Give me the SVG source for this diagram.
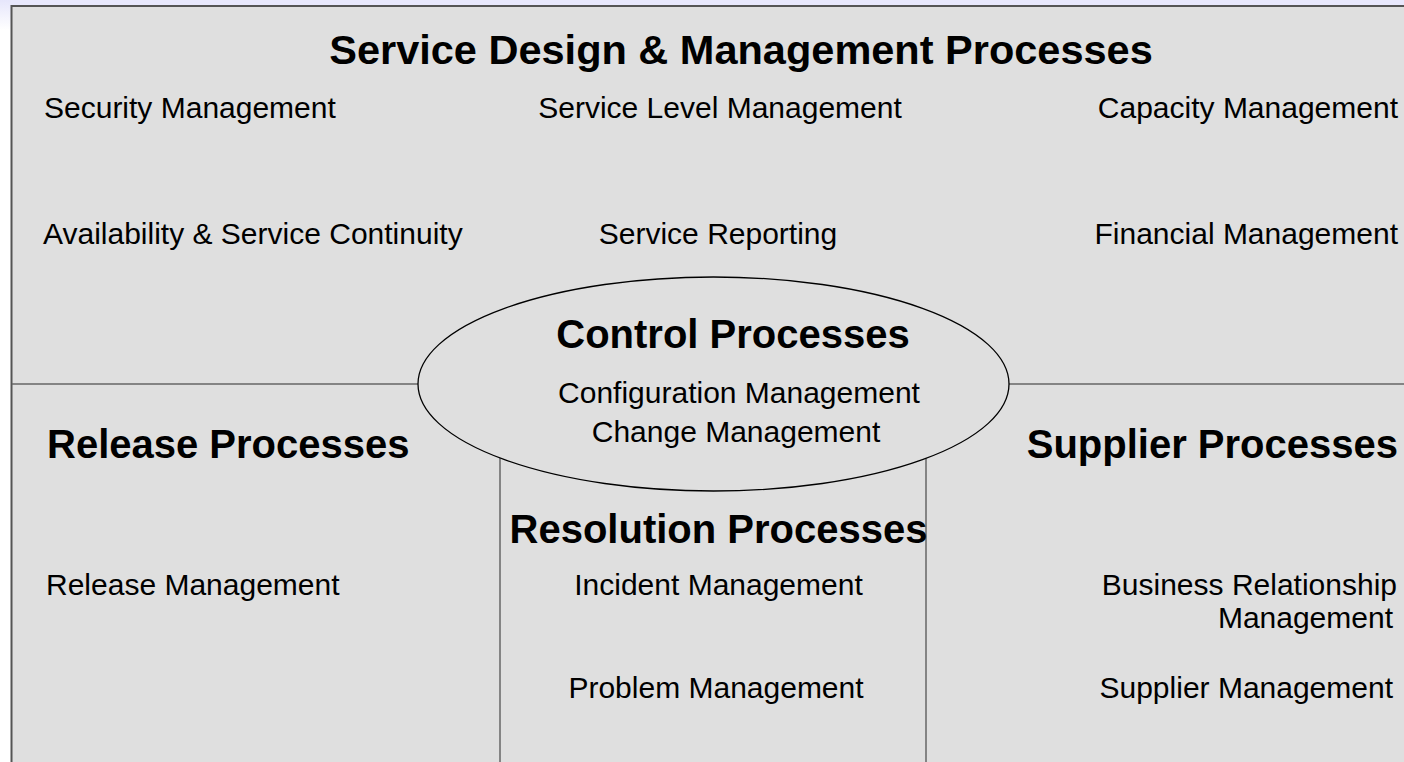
<svg xmlns="http://www.w3.org/2000/svg" width="1404" height="762" viewBox="0 0 1404 762">
<style>
  text { font-family: "Liberation Sans", Arial, sans-serif; fill: #000; }
  .t { font-size: 30px; }
  .h { font-size: 40px; font-weight: bold; }
  .title { font-size: 41.5px; font-weight: bold; }
  .m { text-anchor: middle; }
  .e { text-anchor: end; }
  .div { stroke: #666; stroke-width: 1.5; fill: none; }
</style>
<defs>
  <linearGradient id="sideg" x1="0" y1="0" x2="0" y2="1">
    <stop offset="0" stop-color="#e6e6fb"/>
    <stop offset="1" stop-color="#ffffff"/>
  </linearGradient>
</defs>
<rect x="0" y="0" width="1404" height="762" fill="#ffffff"/>
<rect x="0" y="0" width="1404" height="6" fill="#e8e8fc"/>
<rect x="0" y="0" width="11" height="30" fill="url(#sideg)"/>
<rect id="frame" x="11.5" y="6" width="1400" height="770" fill="#dfdfdf" stroke="#555" stroke-width="2"/>

<g id="dividers">
  <line class="div" x1="12" y1="384" x2="418" y2="384"/>
  <line class="div" x1="1009" y1="384" x2="1404" y2="384"/>
  <line class="div" x1="500" y1="455" x2="500" y2="762"/>
  <line class="div" x1="926" y1="455" x2="926" y2="762"/>
</g>

<g id="design">
  <text class="title m" x="741" y="64">Service Design &amp; Management Processes</text>
  <text class="t" x="44" y="118">Security Management</text>
  <text class="t m" x="720" y="118">Service Level Management</text>
  <text class="t e" x="1398" y="118">Capacity Management</text>
  <text class="t" x="43" y="244">Availability &amp; Service Continuity</text>
  <text class="t m" x="718" y="244">Service Reporting</text>
  <text class="t e" x="1398" y="244">Financial Management</text>
</g>

<g id="release">
  <text class="h" x="47" y="458">Release Processes</text>
  <text class="t" x="46" y="595">Release Management</text>
</g>

<g id="resolution">
  <text class="h m" x="718.5" y="543">Resolution Processes</text>
  <text class="t m" x="718.5" y="595">Incident Management</text>
  <text class="t m" x="716" y="698">Problem Management</text>
</g>

<g id="supplier">
  <text class="h e" x="1398" y="458">Supplier Processes</text>
  <text class="t e" x="1397" y="595">Business Relationship</text>
  <text class="t e" x="1393" y="628">Management</text>
  <text class="t e" x="1393" y="698">Supplier Management</text>
</g>

<g id="control">
  <ellipse cx="713.5" cy="384" rx="295.5" ry="107" fill="#dfdfdf" stroke="#000" stroke-width="1.3"/>
  <text class="h m" x="733" y="348">Control Processes</text>
  <text class="t m" x="739" y="403">Configuration Management</text>
  <text class="t m" x="736" y="442">Change Management</text>
</g>
</svg>
